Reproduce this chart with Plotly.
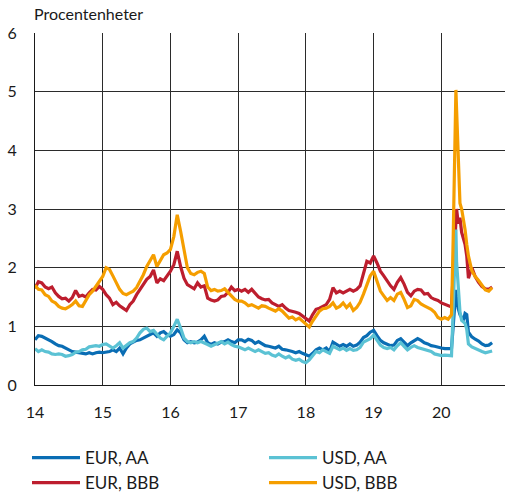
import numpy as np
import plotly.graph_objects as go

# x positions: years (2-digit) 14.00..20.15 step 0.05, then denser around March 2020
x_main = [round(14 + i * 0.05, 3) for i in range(124)]
x_tail = [20.175, 20.2, 20.215, 20.225, 20.25, 20.275, 20.3, 20.325, 20.35, 20.375,
          20.4, 20.45, 20.5, 20.55, 20.6, 20.65, 20.7, 20.75]
x_years = x_main + x_tail

eur_aa = [
    0.77, 0.84, 0.83, 0.80, 0.78, 0.74, 0.70, 0.67, 0.66, 0.63, 0.60, 0.57, 0.56, 0.55, 0.53, 0.53, 0.55, 0.53, 0.55, 0.56,
    0.55, 0.56, 0.57, 0.60, 0.57, 0.63, 0.53, 0.63, 0.70, 0.73, 0.76, 0.77, 0.80, 0.83, 0.86, 0.89, 0.83, 0.89, 0.91, 0.86,
    0.83, 0.86, 0.94, 0.89, 0.77, 0.72, 0.74, 0.72, 0.73, 0.77, 0.83, 0.72, 0.69, 0.72, 0.70, 0.73, 0.74, 0.77, 0.74, 0.72,
    0.77, 0.77, 0.74, 0.78, 0.76, 0.71, 0.74, 0.70, 0.67, 0.66, 0.65, 0.63, 0.66, 0.61, 0.60, 0.59, 0.57, 0.55, 0.57, 0.54,
    0.51, 0.49, 0.54, 0.60, 0.63, 0.60, 0.63, 0.57, 0.73, 0.69, 0.66, 0.69, 0.66, 0.70, 0.66, 0.68, 0.73, 0.81, 0.84, 0.90,
    0.93, 0.84, 0.76, 0.72, 0.70, 0.67, 0.68, 0.76, 0.79, 0.72, 0.67, 0.72, 0.76, 0.79, 0.76, 0.72, 0.70, 0.67, 0.66, 0.64,
    0.63, 0.62, 0.62, 0.62,
    1.00, 1.45, 1.62, 1.50, 1.30, 1.20, 1.15, 1.10, 1.22, 1.20, 0.90, 0.82, 0.78, 0.75, 0.70, 0.67, 0.68, 0.72,
]

usd_aa = [
    0.62, 0.57, 0.60, 0.57, 0.56, 0.53, 0.52, 0.53, 0.52, 0.49, 0.50, 0.52, 0.56, 0.57, 0.60, 0.61, 0.65, 0.66, 0.67, 0.66,
    0.69, 0.70, 0.66, 0.63, 0.67, 0.72, 0.63, 0.67, 0.72, 0.74, 0.80, 0.89, 0.95, 0.97, 0.91, 0.93, 0.86, 0.80, 0.77, 0.83,
    0.89, 1.00, 1.12, 0.97, 0.80, 0.74, 0.72, 0.74, 0.72, 0.74, 0.72, 0.69, 0.66, 0.69, 0.72, 0.74, 0.70, 0.73, 0.69, 0.66,
    0.65, 0.63, 0.60, 0.63, 0.60, 0.57, 0.60, 0.57, 0.54, 0.55, 0.51, 0.49, 0.53, 0.49, 0.46, 0.49, 0.44, 0.42, 0.44, 0.40,
    0.38, 0.43, 0.51, 0.57, 0.55, 0.60, 0.57, 0.54, 0.66, 0.63, 0.60, 0.63, 0.59, 0.62, 0.59, 0.60, 0.64, 0.73, 0.76, 0.79,
    0.85, 0.76, 0.68, 0.64, 0.62, 0.64, 0.60, 0.67, 0.72, 0.66, 0.60, 0.64, 0.67, 0.64, 0.62, 0.60, 0.59, 0.57, 0.53, 0.51,
    0.50, 0.51, 0.50, 0.50,
    1.30, 2.30, 2.65, 2.10, 1.60, 1.25, 1.10, 1.08, 1.05, 0.95, 0.70, 0.65, 0.62, 0.60, 0.57, 0.55, 0.57, 0.58,
]

eur_bbb = [
    1.65, 1.76, 1.74, 1.67, 1.64, 1.67, 1.57, 1.51, 1.47, 1.48, 1.43, 1.49, 1.61, 1.51, 1.53, 1.50, 1.57, 1.63, 1.62, 1.68,
    1.63, 1.54, 1.48, 1.37, 1.41, 1.35, 1.31, 1.27, 1.37, 1.43, 1.54, 1.63, 1.71, 1.80, 1.85, 1.96, 1.74, 1.81, 1.78, 1.86,
    1.94, 2.05, 2.28, 2.02, 1.82, 1.71, 1.68, 1.64, 1.74, 1.67, 1.69, 1.48, 1.45, 1.43, 1.45, 1.51, 1.52, 1.58, 1.67, 1.61,
    1.63, 1.60, 1.63, 1.58, 1.63, 1.57, 1.50, 1.47, 1.45, 1.46, 1.40, 1.37, 1.34, 1.37, 1.31, 1.27, 1.26, 1.24, 1.22, 1.18,
    1.14, 1.09, 1.20, 1.29, 1.31, 1.34, 1.37, 1.46, 1.66, 1.57, 1.60, 1.57, 1.60, 1.63, 1.60, 1.63, 1.69, 1.92, 2.11, 2.08,
    2.20, 2.08, 1.94, 1.86, 1.77, 1.69, 1.63, 1.75, 1.83, 1.72, 1.58, 1.52, 1.60, 1.63, 1.62, 1.55, 1.56, 1.49, 1.46, 1.44,
    1.40, 1.38, 1.36, 1.33,
    1.90, 2.60, 2.95, 3.00, 2.75, 2.85, 2.60, 2.50, 2.40, 2.20, 1.82, 2.00, 1.85, 1.75, 1.68, 1.64, 1.63, 1.67,
]

usd_bbb = [
    1.70, 1.63, 1.62, 1.54, 1.51, 1.43, 1.40, 1.34, 1.31, 1.30, 1.33, 1.37, 1.43, 1.35, 1.34, 1.45, 1.54, 1.60, 1.68, 1.77,
    1.85, 2.00, 1.97, 1.86, 1.75, 1.63, 1.56, 1.54, 1.57, 1.60, 1.66, 1.77, 1.88, 2.02, 2.11, 2.22, 2.02, 2.11, 2.22, 2.25,
    2.31, 2.53, 2.90, 2.62, 2.31, 2.00, 1.90, 1.88, 1.92, 1.94, 1.90, 1.67, 1.61, 1.63, 1.60, 1.61, 1.64, 1.58, 1.52, 1.46,
    1.43, 1.43, 1.40, 1.35, 1.37, 1.34, 1.31, 1.35, 1.34, 1.31, 1.29, 1.26, 1.30, 1.26, 1.20, 1.14, 1.16, 1.11, 1.14, 1.09,
    1.03, 0.99, 1.09, 1.17, 1.26, 1.30, 1.31, 1.34, 1.40, 1.31, 1.34, 1.40, 1.32, 1.38, 1.27, 1.32, 1.41, 1.55, 1.69, 1.86,
    1.94, 1.75, 1.60, 1.52, 1.44, 1.49, 1.44, 1.55, 1.58, 1.46, 1.32, 1.35, 1.46, 1.44, 1.38, 1.35, 1.32, 1.29, 1.24, 1.15,
    1.12, 1.15, 1.12, 1.20,
    2.50, 4.20, 5.03, 4.70, 3.90, 3.10, 3.00, 2.85, 2.65, 2.40, 2.20, 1.95, 1.85, 1.78, 1.70, 1.62, 1.60, 1.66,
]

x_tickvals = [14, 15, 16, 17, 18, 19, 20]
x_ticktext = ["14", "15", "16", "17", "18", "19", "20"]
y_tickvals = [0, 1, 2, 3, 4, 5, 6]

for s in (eur_aa, usd_aa, eur_bbb, usd_bbb):
    assert len(s) == len(x_years), len(s)

FONT = "Lato"
W, H = 505, 495
series = [
    ("EUR, AA", eur_aa, "#0a6db4", "legend"),
    ("EUR, BBB", eur_bbb, "#bd1e2e", "legend"),
    ("USD, AA", usd_aa, "#5bc2d4", "legend2"),
    ("USD, BBB", usd_bbb, "#f59e00", "legend2"),
]

fig = go.Figure()
for name, vals, color, lg in series:
    fig.add_trace(go.Scatter(
        x=x_years, y=vals, mode="lines", name=name,
        line=dict(color=color, width=3.2), legend=lg,
    ))

legend_common = dict(
    orientation="v", yanchor="top", xanchor="left",
    xref="container", yref="container",
    font=dict(family=FONT, size=17, color="#1a1a1a"),
    bgcolor="rgba(0,0,0,0)", tracegroupgap=0, traceorder="normal",
    itemwidth=48,
)

fig.update_layout(
    width=W, height=H,
    margin=dict(l=35, r=0, t=33, b=110, autoexpand=False),
    paper_bgcolor="white", plot_bgcolor="white",
    font=dict(family=FONT, size=16, color="#1a1a1a"),
    showlegend=True,
    legend=dict(x=27 / W, y=1 - 440 / H, **legend_common),
    legend2=dict(x=264 / W, y=1 - 440 / H, **legend_common),
    xaxis=dict(
        range=[14, 20.94], tickvals=x_tickvals, ticktext=x_ticktext,
        showgrid=True, gridcolor="#2b2b2b", gridwidth=1,
        showline=True, linecolor="#1a1a1a", linewidth=1.2,
        ticks="", zeroline=False, ticklabelstandoff=13,
        tickfont=dict(family=FONT, size=16),
    ),
    yaxis=dict(
        range=[0, 6], tickvals=y_tickvals,
        showgrid=True, gridcolor="#2b2b2b", gridwidth=1,
        showline=True, linecolor="#1a1a1a", linewidth=1.2,
        ticks="", zeroline=False, ticklabelstandoff=14,
        tickfont=dict(family=FONT, size=16),
    ),
    annotations=[dict(
        text="Procentenheter", xref="paper", yref="paper", x=0, y=1,
        xanchor="left", yanchor="bottom", yshift=8, xshift=-3, showarrow=False,
        font=dict(family=FONT, size=16, color="#1a1a1a"),
    )],
)

fig.write_html("out.html", config={"displayModeBar": False},
               post_script="document.body.style.margin='0px';")
